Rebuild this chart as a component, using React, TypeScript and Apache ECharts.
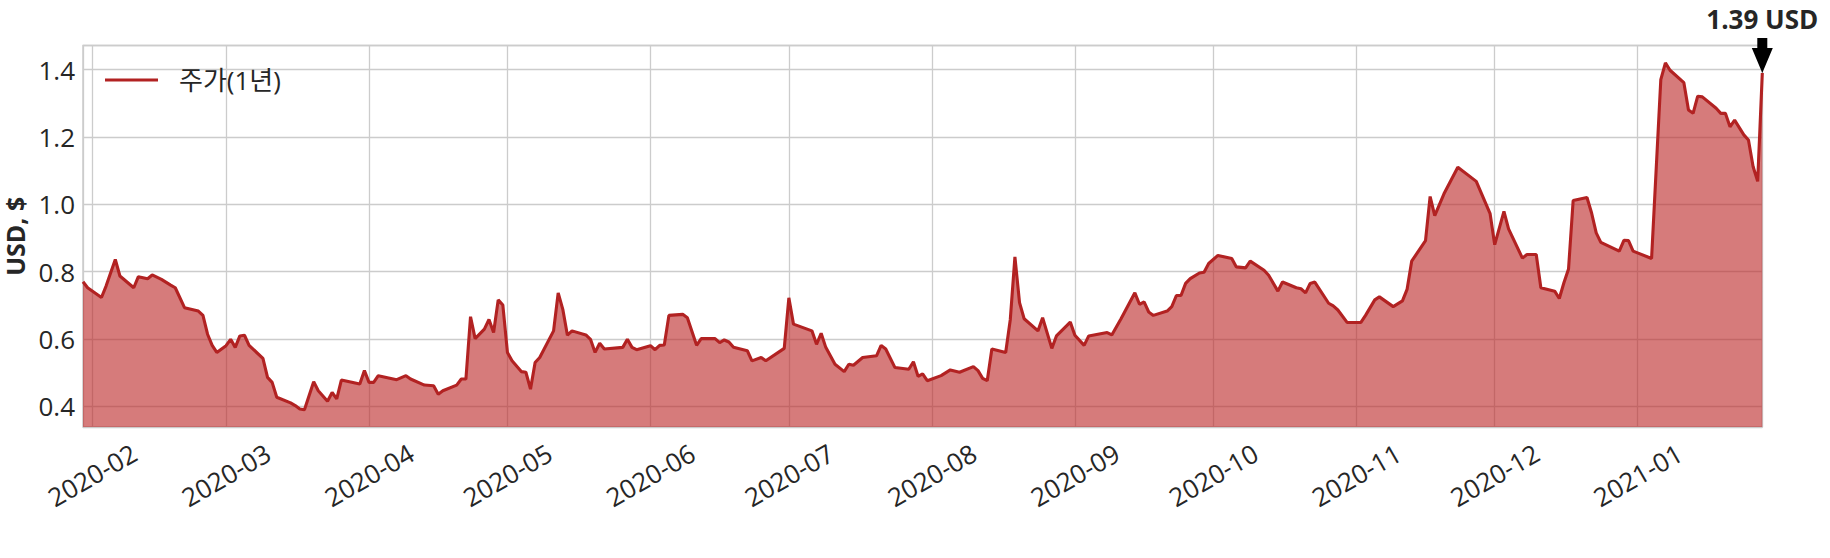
import React, { useEffect, useRef } from "react";
import * as echarts from "echarts";

const SERIES_NAME = "주가(1년)";
const Y_AXIS_NAME = "USD, $";
const UNIT = "USD";

const dates: string[] = [
  "2020-01-30","2020-01-31","2020-02-03","2020-02-04","2020-02-06","2020-02-07","2020-02-10","2020-02-11","2020-02-13","2020-02-14",
  "2020-02-16","2020-02-18","2020-02-19","2020-02-21","2020-02-24","2020-02-25","2020-02-26","2020-02-27","2020-02-28","2020-03-01",
  "2020-03-02","2020-03-03","2020-03-04","2020-03-05","2020-03-06","2020-03-09","2020-03-10","2020-03-11","2020-03-12","2020-03-15",
  "2020-03-16","2020-03-17","2020-03-18","2020-03-20","2020-03-21","2020-03-23","2020-03-24","2020-03-25","2020-03-26","2020-03-30",
  "2020-03-31","2020-04-01","2020-04-02","2020-04-03","2020-04-07","2020-04-09","2020-04-10","2020-04-13","2020-04-15","2020-04-16",
  "2020-04-17","2020-04-20","2020-04-21","2020-04-22","2020-04-23","2020-04-24","2020-04-26","2020-04-27","2020-04-28","2020-04-29",
  "2020-04-30","2020-05-01","2020-05-02","2020-05-04","2020-05-05","2020-05-06","2020-05-07","2020-05-08","2020-05-11","2020-05-12",
  "2020-05-13","2020-05-14","2020-05-15","2020-05-18","2020-05-19","2020-05-20","2020-05-21","2020-05-22","2020-05-26","2020-05-27",
  "2020-05-28","2020-05-29","2020-06-01","2020-06-02","2020-06-03","2020-06-04","2020-06-05","2020-06-08","2020-06-09","2020-06-11",
  "2020-06-12","2020-06-15","2020-06-16","2020-06-17","2020-06-18","2020-06-19","2020-06-22","2020-06-23","2020-06-25","2020-06-26",
  "2020-06-30","2020-07-01","2020-07-02","2020-07-06","2020-07-07","2020-07-08","2020-07-09","2020-07-10","2020-07-11","2020-07-13",
  "2020-07-14","2020-07-15","2020-07-17","2020-07-20","2020-07-21","2020-07-22","2020-07-24","2020-07-27","2020-07-28","2020-07-29",
  "2020-07-30","2020-07-31","2020-08-03","2020-08-05","2020-08-07","2020-08-10","2020-08-11","2020-08-12","2020-08-13","2020-08-14",
  "2020-08-17","2020-08-18","2020-08-19","2020-08-20","2020-08-21","2020-08-24","2020-08-25","2020-08-27","2020-08-28","2020-08-31",
  "2020-09-01","2020-09-03","2020-09-04","2020-09-08","2020-09-09","2020-09-11","2020-09-14","2020-09-15","2020-09-16","2020-09-17",
  "2020-09-18","2020-09-21","2020-09-22","2020-09-23","2020-09-24","2020-09-25","2020-09-26","2020-09-28","2020-09-29","2020-09-30",
  "2020-10-02","2020-10-05","2020-10-06","2020-10-08","2020-10-09","2020-10-12","2020-10-13","2020-10-15","2020-10-16","2020-10-19",
  "2020-10-20","2020-10-21","2020-10-22","2020-10-23","2020-10-26","2020-10-27","2020-10-28","2020-10-30","2020-11-02","2020-11-03",
  "2020-11-05","2020-11-06","2020-11-09","2020-11-11","2020-11-12","2020-11-13","2020-11-16","2020-11-17","2020-11-18","2020-11-20",
  "2020-11-23","2020-11-27","2020-11-30","2020-12-01","2020-12-03","2020-12-04","2020-12-07","2020-12-08","2020-12-10","2020-12-11",
  "2020-12-14","2020-12-15","2020-12-16","2020-12-17","2020-12-18","2020-12-21","2020-12-22","2020-12-23","2020-12-24","2020-12-28",
  "2020-12-29","2020-12-30","2020-12-31","2021-01-04","2021-01-06","2021-01-07","2021-01-08","2021-01-11","2021-01-12","2021-01-13",
  "2021-01-14","2021-01-15","2021-01-18","2021-01-19","2021-01-20","2021-01-21","2021-01-22","2021-01-24","2021-01-25","2021-01-26",
  "2021-01-27","2021-01-28",
];

const prices: number[] = [
  0.770,0.752,0.723,0.757,0.836,0.787,0.752,0.785,0.779,0.790,
  0.777,0.760,0.752,0.693,0.683,0.670,0.614,0.581,0.560,0.580,
  0.599,0.575,0.609,0.611,0.581,0.542,0.486,0.471,0.427,0.410,
  0.402,0.392,0.390,0.473,0.446,0.415,0.441,0.422,0.478,0.466,
  0.506,0.471,0.471,0.491,0.479,0.491,0.481,0.463,0.461,0.436,
  0.446,0.463,0.481,0.481,0.666,0.601,0.629,0.658,0.619,0.716,
  0.701,0.560,0.535,0.503,0.501,0.451,0.530,0.545,0.624,0.737,
  0.688,0.611,0.624,0.612,0.599,0.560,0.587,0.570,0.575,0.599,
  0.575,0.568,0.580,0.568,0.581,0.582,0.670,0.673,0.663,0.581,
  0.601,0.601,0.589,0.597,0.591,0.575,0.565,0.535,0.545,0.535,
  0.572,0.722,0.644,0.624,0.584,0.617,0.575,0.550,0.525,0.503,
  0.525,0.522,0.545,0.550,0.581,0.570,0.515,0.510,0.532,0.489,
  0.496,0.476,0.491,0.508,0.501,0.518,0.506,0.483,0.476,0.570,
  0.560,0.658,0.844,0.708,0.660,0.624,0.663,0.572,0.609,0.650,
  0.611,0.581,0.609,0.619,0.612,0.660,0.737,0.703,0.710,0.680,
  0.670,0.683,0.696,0.729,0.729,0.765,0.779,0.796,0.798,0.824,
  0.848,0.839,0.814,0.811,0.831,0.804,0.789,0.742,0.769,0.752,
  0.749,0.737,0.765,0.769,0.706,0.698,0.686,0.649,0.649,0.670,
  0.716,0.725,0.696,0.713,0.747,0.831,0.892,1.023,0.966,1.031,
  1.110,1.068,0.972,0.880,0.979,0.927,0.840,0.851,0.851,0.752,
  0.742,0.720,0.767,0.808,1.011,1.020,0.974,0.915,0.887,0.861,
  0.893,0.892,0.861,0.839,1.370,1.420,1.398,1.361,1.280,1.270,
  1.321,1.319,1.285,1.270,1.270,1.230,1.250,1.206,1.191,1.112,
  1.068,1.390,
];

const X_MIN = "2020-01-30";
const X_MAX = "2021-01-28";
const Y_MIN = 0.3385;
const Y_MAX = 1.4715;

const FONT = "'Open Sans', 'Noto Sans CJK KR', sans-serif";
const TEXT = "#262626";
const GRID = "#cccccc";
const RED = "#b22222";

export default function App() {
  const ref = useRef<HTMLDivElement>(null);

  useEffect(() => {
    if (!ref.current) return;
    const chart = echarts.init(ref.current, undefined, { renderer: "svg" });
    const data = dates.map((d, i) => [d, prices[i]]);
    const last = data[data.length - 1];

    chart.setOption({
      animation: false,
      textStyle: { fontFamily: FONT },
      grid: {
        left: 83,
        right: 67.7,
        top: 45.5,
        bottom: 131,
        containLabel: false,
        outerBoundsMode: "none",
        show: true,
        borderColor: GRID,
        borderWidth: 1.5,
        backgroundColor: "transparent",
      },
      legend: {
        left: 105,
        top: 65,
        padding: 0,
        itemWidth: 53,
        itemHeight: 3,
        data: [{ name: SERIES_NAME, icon: "rect", itemStyle: { color: RED } }],
        textStyle: {
          fontFamily: FONT,
          fontSize: 26,
          color: TEXT,
          lineHeight: 30,
          padding: [0, 0, 0, 16],
        },
      },
      xAxis: {
        type: "time",
        min: X_MIN,
        max: X_MAX,
        minInterval: 28 * 24 * 3600 * 1000,
        maxInterval: 31 * 24 * 3600 * 1000,
        axisLine: { show: false },
        axisTick: { show: false },
        splitLine: { show: true, lineStyle: { color: GRID, width: 1.3 } },
        axisLabel: {
          showMinLabel: false,
          showMaxLabel: false,
          rotate: 30,
          align: "center",
          verticalAlign: "middle",
          margin: 48,
          fontSize: 26,
          color: TEXT,
          fontFamily: FONT,
          formatter: (v: number) => {
            const d = new Date(v);
            const m = d.getMonth() + 1;
            return `${d.getFullYear()}-${m < 10 ? "0" + m : m}`;
          },
        },
      },
      yAxis: {
        type: "value",
        min: Y_MIN,
        max: Y_MAX,
        splitNumber: 5,
        name: Y_AXIS_NAME,
        nameLocation: "middle",
        nameGap: 49,
        nameTextStyle: {
          fontFamily: FONT,
          fontSize: 25,
          lineHeight: 24,
          fontWeight: "bold",
          color: TEXT,
        },
        axisLine: { show: false },
        axisTick: { show: false },
        splitLine: { show: true, lineStyle: { color: GRID, width: 1.3 } },
        axisLabel: {
          showMinLabel: false,
          showMaxLabel: false,
          margin: 8,
          fontSize: 26,
          color: TEXT,
          fontFamily: FONT,
          formatter: (v: number) => v.toFixed(1),
        },
      },
      series: [
        {
          name: SERIES_NAME,
          type: "line",
          data,
          showSymbol: false,
          symbol: "none",
          lineStyle: { color: RED, width: 3.1 },
          itemStyle: { color: RED },
          areaStyle: { color: "#bb2323", opacity: 0.6, origin: "start" },
          markPoint: {
            silent: true,
            symbol: "path://M5.5,0 L15.5,0 L15.5,10 L21,10 L10.5,35 L0,10 L5.5,10 Z",
            symbolSize: [21, 35],
            symbolOffset: [0, "-50%"],
            itemStyle: { color: "#000000" },
            label: {
              show: true,
              position: "top",
              distance: 6,
              fontFamily: FONT,
              fontSize: 26,
              fontWeight: "bold",
              color: TEXT,
              formatter: (p: any) => `${Number(p.value).toFixed(2)} ${UNIT}`,
            },
            data: [{ coord: last, value: last[1] }],
          },
        },
      ],
    });

    return () => chart.dispose();
  }, []);

  return (
    <div
      ref={ref}
      style={{ position: "absolute", left: 0, top: 0, width: 1830, height: 558, background: "#ffffff" }}
    />
  );
}
